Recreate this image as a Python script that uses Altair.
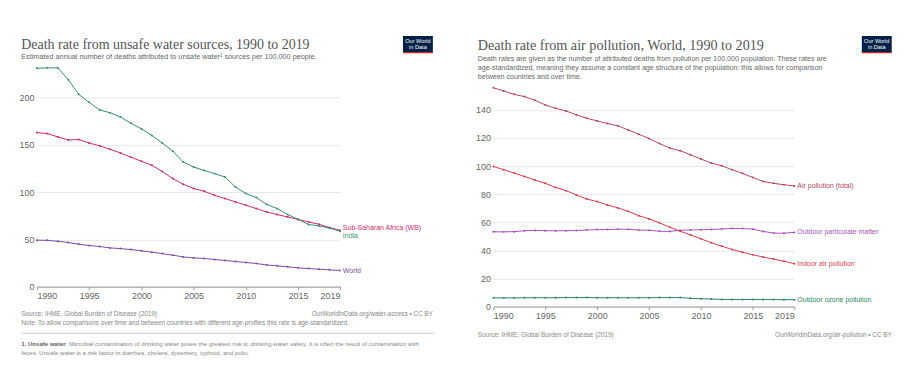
import altair as alt
import pandas as pd

years = list(range(1990, 2020))

# Left chart: unsafe water death rates
water_series = ["Sub-Saharan Africa (WB)", "India", "World"]
ssa = [163, 162, 158.4, 155.2, 155.7, 152, 149, 145.4, 141.5, 137, 132.7, 128.4, 121.8, 114.4, 108.4,
       103.8, 101, 96.7, 93.2, 89.7, 86.2, 82.6, 79, 76.3, 73.8, 71, 68.5, 66, 62.6, 59.7]
india = [231, 231.5, 231.5, 219, 203.5, 195, 187, 184, 179.5, 173, 167, 160, 152, 143.5, 132,
         126.6, 123, 119.6, 116, 105.5, 98.5, 94.3, 87, 82.6, 76.3, 71.3, 65.7, 64.3, 62, 58.7]
world = [49.2, 49, 48, 46.7, 45, 43.5, 42.5, 41, 40.3, 39.3, 37.9, 36.5, 35, 33.3, 31.5,
         30.4, 29.8, 28.8, 27.7, 26.6, 25.6, 24.5, 23, 22, 21, 19.9, 19.2, 18.5, 17.8, 17.1]
water_colors = ["#CE2A72", "#3A8E6A", "#7E4A9B"]

# Right chart: air pollution death rates, World
air_series = ["Air pollution (total)", "Outdoor particulate matter", "Indoor air pollution", "Outdoor ozone pollution"]
total = [155.7, 153.4, 151, 149.4, 146.8, 143.5, 141.1, 139.2, 136.4, 134, 132.1, 130.2, 128.6, 125.7, 122.7,
         119.6, 116, 112.8, 110.9, 108, 105, 102.1, 100.2, 97.4, 94.8, 91.9, 89, 87.7, 86.7, 85.8]
particulate = [53.2, 53.2, 53.3, 54, 54.2, 54, 53.9, 54, 54.1, 54.5, 54.8, 54.8, 55.1, 55, 54.5,
               54.3, 53.6, 53.5, 54.3, 54.5, 54.7, 54.9, 55.2, 55.6, 55.5, 55.1, 53.5, 52.3, 52.2, 52.8]
indoor = [99.7, 97.4, 95, 92.6, 90, 87.7, 84.8, 82.5, 79.4, 76.6, 74.7, 72.3, 70.2, 67.8, 64.7,
          62.4, 59.6, 56.5, 53.6, 51, 48.2, 45.4, 43, 40.6, 38.7, 36.9, 35.2, 33.8, 32.3, 30.5]
ozone = [6.2, 6.2, 6.2, 6.3, 6.3, 6.3, 6.3, 6.4, 6.4, 6.5, 6.3, 6.3, 6.3, 6.3, 6.3,
         6.3, 6.4, 6.4, 6.4, 5.9, 5.6, 5.4, 5.1, 5.0, 5.0, 5.0, 5.0, 5.0, 4.9, 4.9]
air_colors = ["#B24661", "#A652BA", "#D73C50", "#2C8465"]

x_ticks = [1990, 1995, 2000, 2005, 2010, 2015, 2019]
water_y_ticks = [0, 50, 100, 150, 200]
air_y_ticks = [0, 20, 40, 60, 80, 100, 120, 140]

SANS = "Liberation Sans"
SERIF = "Liberation Serif"


def long_df(names, values):
    rows = []
    for n, vals in zip(names, values):
        for y, v in zip(years, vals):
            rows.append({"year": y, "value": v, "series": n})
    return pd.DataFrame(rows)


def txt(s, x, y, size, color, align="left", weight="normal", font=SANS):
    return alt.Chart(pd.DataFrame({"t": [s]})).mark_text(
        align=align, baseline="alphabetic", fontSize=size, color=color,
        fontWeight=weight, font=font
    ).encode(text="t:N", x=alt.value(x), y=alt.value(y))


def logo(x0):
    box = alt.Chart(pd.DataFrame({"a": [0]})).mark_rect(color="#002147").encode(
        x=alt.value(x0), x2=alt.value(x0 + 30), y=alt.value(-31.5), y2=alt.value(-15))
    bar = alt.Chart(pd.DataFrame({"a": [0]})).mark_rect(color="#CE261E").encode(
        x=alt.value(x0), x2=alt.value(x0 + 30), y=alt.value(-15.5), y2=alt.value(-14.2))
    t1 = txt("Our World", x0 + 15, -24.5, 5.6, "white", align="center")
    t2 = txt("in Data", x0 + 15, -18.5, 5.6, "white", align="center")
    return [box, bar, t1, t2]


def base_axes(domain_max, y_ticks):
    x = alt.X("year:Q", scale=alt.Scale(domain=[1990, 2019], nice=False),
              axis=alt.Axis(values=x_ticks, tickCount=len(x_ticks), format="d", title=None, grid=False,
                            labelFlush=True, domainColor="#999", tickColor="#999", tickSize=3,
                            labelPadding=2, labelFontSize=9, labelColor="#666", labelFont=SANS))
    y = alt.Y("value:Q", scale=alt.Scale(domain=[0, domain_max], nice=False, zero=True),
              axis=alt.Axis(values=y_ticks, tickCount=len(y_ticks), title=None, domain=False,
                            ticks=False, tickSize=0, labelPadding=3, labelFontSize=9,
                            labelColor="#666", labelFont=SANS, gridColor="#e8e8e8"))
    return x, y


# ---------- left chart ----------
wdf = long_df(water_series, [ssa, india, world])
wx, wy = base_axes(232, water_y_ticks)
wcolor = alt.Color("series:N", scale=alt.Scale(domain=water_series, range=water_colors), legend=None)
wlines = alt.Chart(wdf).mark_line(strokeWidth=1, point=alt.OverlayMarkDef(size=4, filled=True)).encode(
    x=wx, y=wy, color=wcolor, detail="series:N")
wlast = wdf[wdf.year == 2019]
wlabel_layers = []
for name, nudge in zip(water_series, [-2.5, 5, 0.5]):
    wlabel_layers.append(
        alt.Chart(wlast[wlast.series == name]).mark_text(
            align="left", baseline="middle", dx=3, dy=nudge, fontSize=7, font=SANS).encode(
            x="year:Q", y="value:Q", text="series:N", color=wcolor))

FOOT = 6.4
NOTE = 6.1
left = alt.layer(
    wlines, *wlabel_layers,
    txt("Death rate from unsafe water sources, 1990 to 2019", -15.7, -18.5, 14, "#555", font=SERIF),
    txt("Estimated annual number of deaths attributed to unsafe water\u00b9 sources per 100,000 people.",
        -15.7, -8.5, 7.3, "#666"),
    *logo(367.3),
    txt("Source: IHME, Global Burden of Disease (2019)", -15.7, 249.8, FOOT, "#888"),
    txt("OurWorldInData.org/water-access \u2022 CC BY", 397.3, 249.8, FOOT, "#888", align="right"),
    txt("Note: To allow comparisons over time and between countries with different age-profiles this rate is age-standardized.",
        -15.7, 258, FOOT, "#888"),
    alt.Chart(pd.DataFrame({"a": [0]})).mark_rule(color="#ccc", strokeWidth=1).encode(
        x=alt.value(-15.7), x2=alt.value(399.3), y=alt.value(266.8)),
    txt("1. Unsafe water", -15.7, 279.8, NOTE, "#666", weight="bold"),
    txt(": Microbial contamination of drinking water poses the greatest risk to drinking-water safety. It is often the result of contamination with",
        29.0, 279.8, NOTE, "#888"),
    txt("feces. Unsafe water is a risk factor in diarrhea, cholera, dysentery, typhoid, and polio.",
        -15.7, 288.1, NOTE, "#888"),
).properties(width=304, height=220)

# ---------- right chart ----------
adf = long_df(air_series, [total, particulate, indoor, ozone])
ax, ay = base_axes(156 * 240 / 220, air_y_ticks)
acolor = alt.Color("series:N", scale=alt.Scale(domain=air_series, range=air_colors), legend=None)
alines = alt.Chart(adf).mark_line(strokeWidth=1, point=alt.OverlayMarkDef(size=4, filled=True)).encode(
    x=ax, y=ay, color=acolor, detail="series:N")
alabels = alt.Chart(adf[adf.year == 2019]).mark_text(
    align="left", baseline="middle", dx=3, fontSize=7, font=SANS).encode(
    x="year:Q", y="value:Q", text="series:N", color=acolor)

right = alt.layer(
    alines, alabels,
    txt("Death rate from air pollution, World, 1990 to 2019", -15.6, -17.8, 14.2, "#555", font=SERIF),
    txt("Death rates are given as the number of attributed deaths from pollution per 100,000 population. These rates are",
        -15.6, -6.7, 7.1, "#666"),
    txt("age-standardized, meaning they assume a constant age structure of the population: this allows for comparison",
        -15.6, 2.5, 7.1, "#666"),
    txt("between countries and over time.", -15.6, 11.5, 7.1, "#666"),
    *logo(369.7),
    txt("Source: IHME, Global Burden of Disease (2019)", -15.6, 270.8, FOOT, "#888"),
    txt("OurWorldInData.org/air-pollution \u2022 CC BY", 399.7, 270.8, FOOT, "#888", align="right"),
).properties(width=302, height=240)

chart = alt.hconcat(left, right, spacing=39).resolve_scale(color="independent").properties(
    padding={"left": 10, "top": 27, "right": 5, "bottom": 5},
    background="white",
).configure_view(stroke=None)

chart.save("out.html", embed_options={"renderer": "svg", "actions": False})
